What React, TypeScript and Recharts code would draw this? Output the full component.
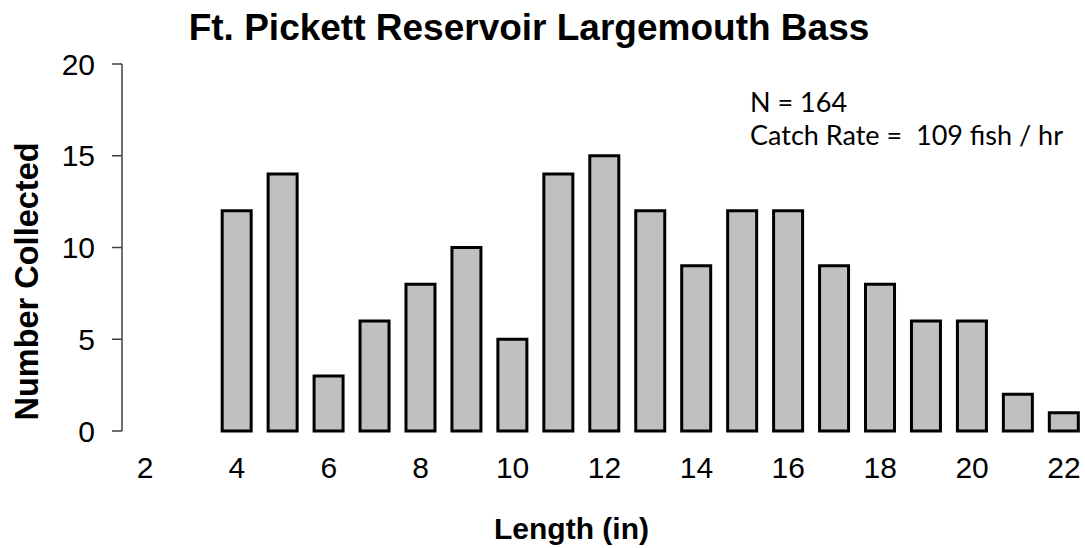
import { Bar, BarChart, Label, XAxis, YAxis } from "recharts";

const lengths = [2, 3, 4, 5, 6, 7, 8, 9, 10, 11, 12, 13, 14, 15, 16, 17, 18, 19, 20, 21, 22];
const counts = [0, 0, 12, 14, 3, 6, 8, 10, 5, 14, 15, 12, 9, 12, 12, 9, 8, 6, 6, 2, 1];
const lengthLabels = [2, 4, 6, 8, 10, 12, 14, 16, 18, 20, 22];
const countTicks = [0, 5, 10, 15, 20];

const data = lengths.map((len, i) => ({ len, count: counts[i] }));
// tick marks sit on the bin edges, labels on the bin centres
const binEdges = [...lengths.map((l) => l - 0.5), lengths[lengths.length - 1] + 0.5];
const xDomain: [number, number] = [binEdges[0], binEdges[binEdges.length - 1]];

const ARIAL = "'Liberation Sans', Arial, sans-serif";
const AXIS = "#404040";

export default function App() {
  return (
    <div
      style={{
        position: "absolute",
        left: 0,
        top: 0,
        width: 1085,
        height: 548,
        overflow: "hidden",
        background: "#fff",
      }}
    >
      <BarChart
        width={1100}
        height={548}
        data={data}
        margin={{ top: 64, right: 13, bottom: 57, left: 62 }}
        barCategoryGap="18%"
      >
        <XAxis
          xAxisId={0}
          dataKey="len"
          type="number"
          domain={xDomain}
          allowDataOverflow
          ticks={binEdges}
          interval={0}
          height={0}
          tick={false}
          tickSize={9}
          tickLine={{ stroke: AXIS, strokeWidth: 1.5 }}
          axisLine={{ stroke: AXIS, strokeWidth: 1.5 }}
        />
        <XAxis
          xAxisId="labels"
          dataKey="len"
          type="number"
          domain={xDomain}
          allowDataOverflow
          ticks={lengthLabels}
          interval={0}
          height={60}
          tickLine={false}
          axisLine={false}
          tickSize={8}
          tickMargin={18}
          tick={{ fontSize: 30, fill: "#000", fontFamily: ARIAL }}
        >
          <Label
            value="Length (in)"
            position="bottom"
            offset={27}
            dx={-33}
            style={{ fontSize: 30, fontWeight: 700, fill: "#000", fontFamily: ARIAL }}
          />
        </XAxis>
        <YAxis
          width={60}
          domain={[0, 20]}
          ticks={countTicks}
          interval={0}
          tickSize={10}
          tickMargin={17}
          tickLine={{ stroke: AXIS, strokeWidth: 1.5 }}
          axisLine={{ stroke: AXIS, strokeWidth: 1.5 }}
          tick={{ fontSize: 30, fill: "#000", fontFamily: ARIAL }}
        >
          <Label
            value="Number Collected"
            angle={-90}
            position="center"
            dx={-66}
            dy={34}
            style={{ fontSize: 32.5, fontWeight: 700, fill: "#000", fontFamily: ARIAL }}
          />
        </YAxis>
        <Bar dataKey="count" fill="#c0c0c0" stroke="#000" strokeWidth={3} isAnimationActive={false} />
      </BarChart>

      <svg
        width={1085}
        height={548}
        style={{ position: "absolute", left: 0, top: 0, pointerEvents: "none" }}
      >
        <text x={529} y={40} textAnchor="middle" fontSize={37} fontWeight={700} fontFamily={ARIAL}>
          Ft. Pickett Reservoir Largemouth Bass
        </text>
        <text x={750} y={112} fontSize={27} fontFamily="Lato, sans-serif" fill="#000">
          N = 164
        </text>
        <text x={750} y={145} fontSize={27} fontFamily="Lato, sans-serif" fill="#000" xmlSpace="preserve">
          {"Catch Rate =  109 fish / hr"}
        </text>
      </svg>
    </div>
  );
}
